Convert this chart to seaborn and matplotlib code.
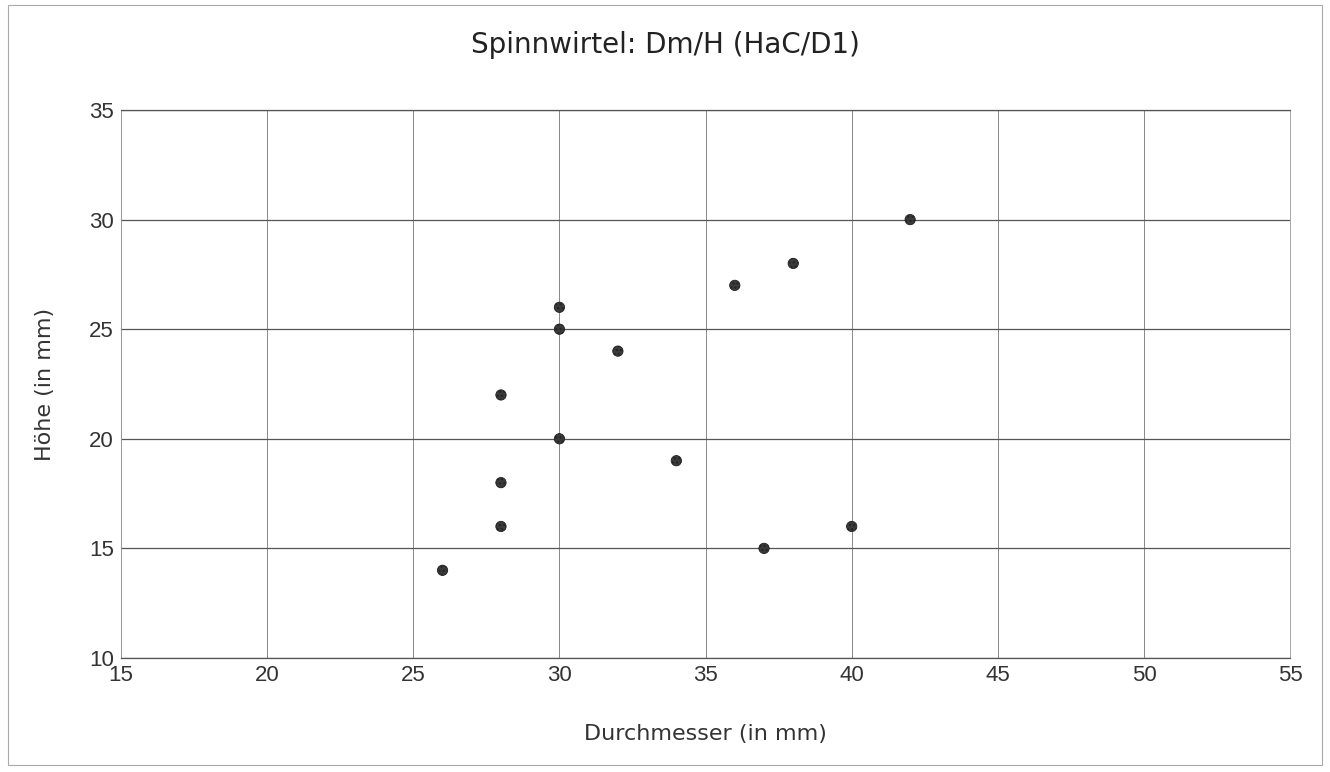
import matplotlib
matplotlib.use("Agg")
import matplotlib.pyplot as plt
import seaborn as sns
import pandas as pd
from matplotlib.patches import Rectangle

# Spinnwirtel measurements (diameter / height, mm)
durchmesser = [26, 28, 28, 28, 30, 30, 30, 32, 34, 36, 37, 38, 40, 42]
hoehe = [14, 16, 18, 22, 20, 25, 26, 24, 19, 27, 15, 28, 16, 30]
x_ticks = [15, 20, 25, 30, 35, 40, 45, 50, 55]
y_ticks = [10, 15, 20, 25, 30, 35]

df = pd.DataFrame({"Durchmesser": durchmesser, "Hoehe": hoehe})

sns.set_style("white")
plt.rcParams['font.family'] = ['Liberation Sans', 'DejaVu Sans']

fig = plt.figure(figsize=(13.3, 7.72), dpi=100)
ax = fig.add_axes([0.091, 0.1477, 0.879, 0.7098])

sns.scatterplot(data=df, x="Durchmesser", y="Hoehe", ax=ax, s=55,
                color="#3a3a3a", edgecolor="#222222", linewidth=0.6,
                hatch="....", zorder=3)

ax.set_xlim(15, 55)
ax.set_ylim(10, 35)
ax.set_xticks(x_ticks)
ax.set_yticks(y_ticks)
ax.tick_params(axis="both", labelsize=16, colors="#333333", length=4,
               width=0.6, direction="out", pad=1)
for t in ax.get_xticklabels() + ax.get_yticklabels():
    t.set_color("#333333")

# horizontal grid darker, vertical lighter
ax.yaxis.grid(True, color="#555555", linewidth=0.9)
ax.xaxis.grid(True, color="#888888", linewidth=0.7)
ax.set_axisbelow(True)
for side in ["top", "bottom"]:
    ax.spines[side].set_color("#555555")
    ax.spines[side].set_linewidth(0.9)
for side in ["left", "right"]:
    ax.spines[side].set_color("#999999")
    ax.spines[side].set_linewidth(0.6)

lab_font = dict(fontsize=16, color="#333333", family=["DejaVu Sans"])
ax.set_xlabel("Durchmesser (in mm)", va="center", **lab_font)
ax.set_ylabel("Höhe (in mm)", va="center", **lab_font)
ax.xaxis.set_label_coords(0.5, -0.139)
ax.yaxis.set_label_coords(-0.065, 0.5)

fig.text(0.5, 0.942, "Spinnwirtel: Dm/H (HaC/D1)", ha="center", va="center",
         fontsize=20, color="#222222", family=["DejaVu Sans"])

# outer frame of the chart
fig.patches.append(Rectangle((0.006, 0.009), 0.988, 0.984, transform=fig.transFigure,
                             fill=False, edgecolor="#aaaaaa", linewidth=0.8))

fig.savefig("out.png", dpi=100)
